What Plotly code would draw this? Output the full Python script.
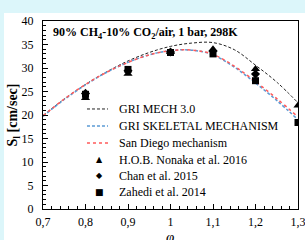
import plotly.graph_objects as go

# ---- data ----
phi_curve = [0.70, 0.75, 0.80, 0.85, 0.90, 0.95, 1.00, 1.05, 1.10, 1.15, 1.20, 1.25, 1.30]
gri_mech = [19.9, 23.4, 26.5, 29.2, 31.5, 33.3, 34.6, 35.3, 35.4, 33.9, 30.6, 27.0, 22.6]
gri_skeletal = [19.7, 23.3, 26.4, 29.1, 31.2, 32.8, 33.7, 33.8, 32.8, 30.2, 26.8, 23.1, 19.0]
san_diego = [19.8, 23.4, 26.5, 29.1, 31.2, 32.8, 33.7, 33.8, 32.9, 30.4, 27.1, 23.5, 19.6]

phi_nonaka = [0.8, 0.9, 1.0, 1.1, 1.2, 1.3]
nonaka = [23.6, 28.8, 33.4, 34.0, 29.8, 22.0]

phi_chan = [0.8, 0.9, 1.0, 1.1, 1.2]
chan = [24.6, 29.4, 33.4, 33.6, 28.7]

phi_zahedi = [0.8, 0.9, 1.0, 1.1, 1.2, 1.3]
zahedi = [24.4, 29.7, 33.3, 33.0, 27.3, 18.4]

legend_labels = ["GRI MECH 3.0", "GRI SKELETAL MECHANISM", "San Diego mechanism",
                 "H.O.B. Nonaka et al. 2016", "Chan et al. 2015", "Zahedi et al. 2014"]

title_text = "<b>90% CH<sub>4</sub>-10% CO<sub>2</sub>/air, 1 bar, 298K</b>"
x_title = "<i>φ</i>"

SERIF = "Liberation Serif"
PAGE_BG = "#dcf6fa"

line_styles = [
    dict(color="#222222", width=1, dash="3px,2px"),
    dict(color="#5b9bd5", width=1.5, dash="3px,2px"),
    dict(color="#ff5a5a", width=1.5, dash="3px,3px"),
]
marker_styles = [
    dict(symbol="triangle-up", size=8, color="black"),
    dict(symbol="diamond", size=7, color="black"),
    dict(symbol="square", size=7, color="black"),
]

fig = go.Figure()
for ys, st in zip([gri_mech, gri_skeletal, san_diego], line_styles):
    fig.add_trace(go.Scatter(x=phi_curve, y=ys, mode="lines", showlegend=False,
                             line=dict(shape="spline", **st)))
for xs, ys, mk in zip([phi_nonaka, phi_chan, phi_zahedi], [nonaka, chan, zahedi], marker_styles):
    fig.add_trace(go.Scatter(x=xs, y=ys, mode="markers", showlegend=False, marker=mk))

# white panel over the light-cyan page
fig.add_shape(type="rect", xref="paper", yref="paper",
              x0=-0.153, x1=1.05, y0=-0.2, y1=1.0426,
              fillcolor="white", line=dict(width=0), layer="below")

# compact legend (keys + labels), laid out in paper coordinates
row_y = [0.532, 0.442, 0.351, 0.261, 0.176, 0.090]
key_x0, key_x1, key_xm, text_x = 0.1725, 0.255, 0.2235, 0.29
glyphs = ["▲", "◆", "■"]
glyph_sizes = [8, 8, 9]
for i, lab in enumerate(legend_labels):
    if i < 3:
        st = line_styles[i]
        fig.add_shape(type="line", xref="paper", yref="paper",
                      x0=key_x0, x1=key_x1, y0=row_y[i], y1=row_y[i],
                      line=dict(color=st["color"], width=st["width"], dash=st["dash"]))
    else:
        fig.add_annotation(text=glyphs[i - 3], xref="paper", yref="paper",
                           x=key_xm, y=row_y[i], xanchor="center", yanchor="middle",
                           showarrow=False,
                           font=dict(family="DejaVu Sans", size=glyph_sizes[i - 3], color="black"))
    fig.add_annotation(text=lab, xref="paper", yref="paper", x=text_x, y=row_y[i],
                       xanchor="left", yanchor="middle", showarrow=False,
                       font=dict(family=SERIF, size=12, color="black"))

fig.add_annotation(text=title_text, xref="paper", yref="paper", x=0.03, y=0.936,
                   xanchor="left", yanchor="middle", showarrow=False,
                   font=dict(family=SERIF, size=12, color="black"))

# x-axis title (phi), partly below the visible area as in the reference
fig.add_annotation(text=x_title, xref="paper", yref="paper", x=0.498, y=-0.15,
                   xanchor="center", yanchor="middle", showarrow=False,
                   font=dict(family=SERIF, size=15, color="black"))

fig.update_layout(
    width=305, height=240,
    margin=dict(l=43, r=7, t=21, b=31),
    paper_bgcolor=PAGE_BG,
    plot_bgcolor="white",
    separators=", ",
    font=dict(family=SERIF, size=12, color="black"),
    showlegend=False,
)
fig.update_xaxes(range=[0.7, 1.3], dtick=0.1, tick0=0.7, showgrid=False, zeroline=False,
                 automargin=False, ticklabeloverflow="allow",
                 showline=True, linecolor="black", linewidth=1, mirror=True,
                 ticks="inside", ticklen=5, tickcolor="black", ticklabelstandoff=2,
                 minor=dict(dtick=0.02, ticks="inside", ticklen=3, tickcolor="black"),
                 tickfont=dict(family=SERIF, size=12))
fig.update_yaxes(range=[0, 40], dtick=5, showgrid=False, zeroline=False,
                 automargin=False,
                 showline=True, linecolor="black", linewidth=1, mirror=True,
                 ticks="inside", ticklen=5, tickcolor="black", ticklabelstandoff=6,
                 minor=dict(dtick=1, ticks="inside", ticklen=3, tickcolor="black"),
                 tickfont=dict(family=SERIF, size=12),
                 title=dict(text="<b>S<sub>l</sub> [cm/sec]</b>", font=dict(family=SERIF, size=14), standoff=0))

fig.write_html("out.html", config={"displayModeBar": False},
               post_script="document.body.style.margin='0';document.body.style.background='%s';" % PAGE_BG)
